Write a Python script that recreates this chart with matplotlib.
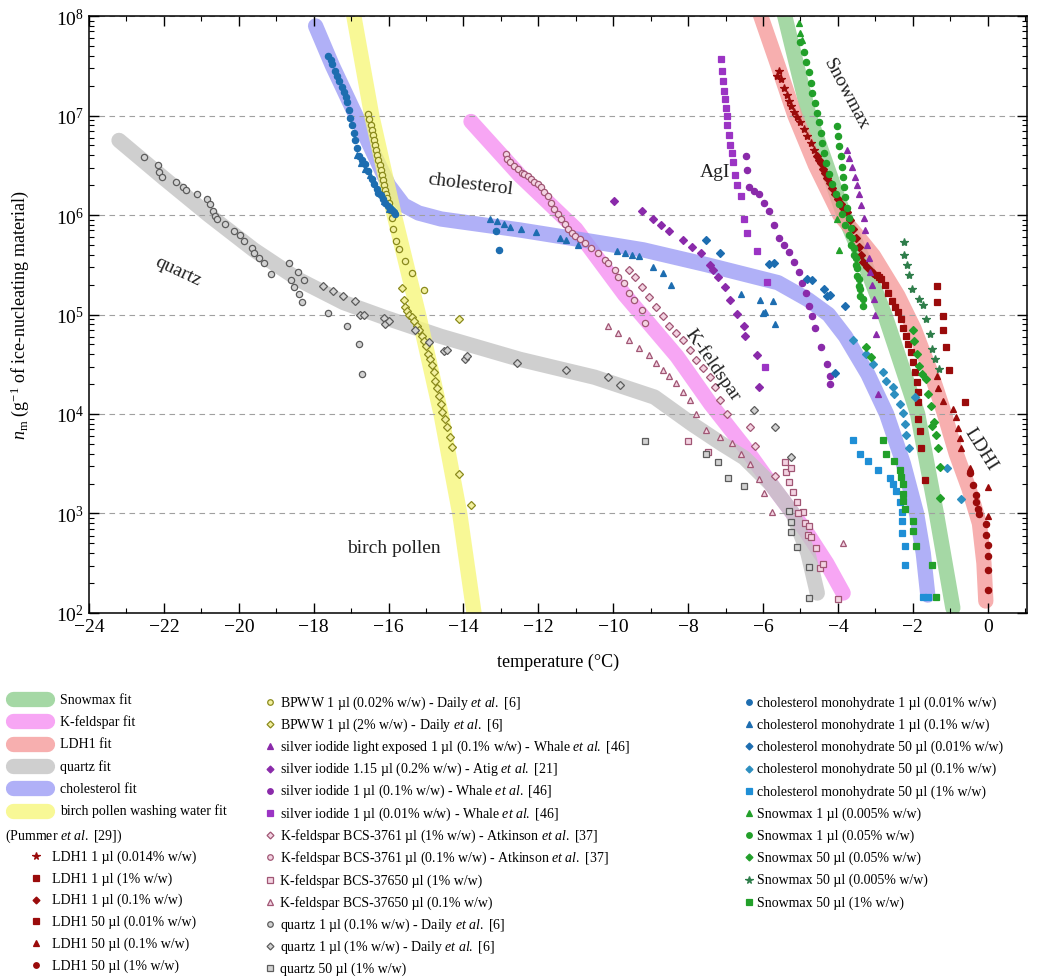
import numpy as np
import matplotlib
matplotlib.use('Agg')
import matplotlib.pyplot as plt
from matplotlib.lines import Line2D
from matplotlib.ticker import MultipleLocator, LogLocator, NullFormatter

plt.rcParams['font.family'] = ['Liberation Serif', 'DejaVu Serif']
plt.rcParams['mathtext.fontset'] = 'custom'
plt.rcParams['mathtext.rm'] = 'Liberation Serif'
plt.rcParams['mathtext.it'] = 'Liberation Serif:italic'
plt.rcParams['mathtext.bf'] = 'Liberation Serif:bold'

# ---- fit curves (temperature, log10 n_m) ----
snow_fit_T = [-5.5, -5.42, -4.77, -3.84, -3.27, -2.75, -1.87, -1.37, -0.93]
snow_fit_lg = [8.12, 8.0, 7.0, 6.0, 5.5, 5.0, 4.0, 3.0, 2.05]
kfeld_fit_T = [-13.8, -12.5, -11.0, -9.7, -8.3, -7.4, -6.5, -5.7, -4.85, -4.3, -3.86]
kfeld_fit_lg = [6.94, 6.4, 5.86, 5.2, 4.58, 4.1, 3.67, 3.25, 2.82, 2.5, 2.2]
ldh_fit_T = [-6.15, -6.06, -5.6, -5.15, -4.6, -3.95, -3.5, -3.05, -2.4, -1.97, -1.52, -1.17, -0.84, -0.5,
             -0.22, -0.1, -0.05]
ldh_fit_lg = [8.1, 8.0, 7.5, 7.0, 6.5, 6.0, 5.8, 5.59, 5.19, 4.86, 4.42, 4.02, 3.6, 3.25,
              2.9, 2.5, 2.12]
quartz_fit_T = [-23.2, -22.0, -20.8, -19.6, -18.4, -17.2, -16.1, -14.6, -12.5, -10.5, -8.9, -7.9, -7.1, -6.5, -5.8, -5.2, -4.8, -4.55]
quartz_fit_lg = [6.75, 6.37, 6.0, 5.65, 5.35, 5.12, 4.97, 4.78, 4.55, 4.37, 4.17, 3.9, 3.7, 3.56, 3.3, 3.0, 2.6, 2.2]
chol_fit_T = [-17.95, -17.5, -17.0, -16.5, -16.0, -15.6, -15.2, -14.6, -12.5, -10.5, -9.2, -7.5, -5.6, -4.8,
              -4.25, -3.8, -3.2, -2.7, -2.25, -1.9, -1.72, -1.6]
chol_fit_lg = [7.9, 7.5, 7.1, 6.7, 6.3, 6.1, 6.02, 5.96, 5.85, 5.73, 5.65, 5.5, 5.32, 5.15,
               5.0, 4.78, 4.4, 4.0, 3.5, 3.0, 2.6, 2.18]
birch_fit_T = [-17.0, -16.45, -15.85, -15.2, -14.6, -14.1, -13.7]
birch_fit_lg = [8.15, 7.0, 6.0, 5.0, 4.0, 3.0, 1.95]

# ---- LDH1 (Pummer et al.) ----
ldh_star_T = [-5.62, -5.57, -5.53, -5.44, -5.35, -5.31, -5.26, -5.17, -5.08, -5.0, -4.91, -4.82, -4.73, -4.64]
ldh_star_lg = [7.4, 7.45, 7.37, 7.28, 7.21, 7.15, 7.1, 7.04, 6.99, 6.93, 6.86, 6.79, 6.72, 6.65]
ldh_dia_T = [-4.55, -4.5, -4.46, -4.4, -4.35, -4.28, -4.22, -4.15, -4.08, -4.0, -3.93, -3.86, -3.8, -3.75,
             -3.68, -3.6, -3.52, -3.45, -3.38, -3.32, -3.22, -3.12, -3.05]
ldh_dia_lg = [6.59, 6.55, 6.52, 6.46, 6.42, 6.37, 6.32, 6.27, 6.21, 6.16, 6.11, 6.07, 6.05, 6.03,
              5.95, 5.86, 5.77, 5.68, 5.6, 5.53, 5.48, 5.44, 5.42]
ldh_sq1_T = [-2.95, -2.9, -2.84, -2.75, -2.65, -2.55, -2.47, -2.4, -2.32, -2.25, -2.18, -2.12, -2.05, -2.0,
             -1.95, -1.9, -1.87, -1.86, -1.85, -1.8, -1.77, -1.68]
ldh_sq1_lg = [5.4, 5.38, 5.36, 5.3, 5.22, 5.14, 5.08, 5.03, 4.95, 4.86, 4.78, 4.7, 4.62, 4.52,
              4.42, 4.32, 4.22, 4.12, 3.95, 3.83, 3.66, 3.34]
ldh_sq50_T = [-1.35, -1.36, -1.2, -1.2, -1.12, -1.02, -0.6]
ldh_sq50_lg = [5.29, 5.13, 4.98, 4.84, 4.67, 4.44, 4.12]
ldh_tri_T = [-1.35, -1.33, -1.2, -0.93, -0.84, -0.8, -0.75, -0.71, -0.48, 0.0, 0.0]
ldh_tri_lg = [4.38, 4.26, 4.13, 4.05, 3.97, 3.86, 3.76, 3.66, 3.46, 3.27, 2.97]
ldh_circ_T = [-0.48, -0.39, -0.31, -0.31, -0.26, -0.22, -0.04, -0.04, 0.0, 0.0, 0.0, 0.0]
ldh_circ_lg = [3.41, 3.29, 3.19, 3.12, 3.05, 2.99, 2.89, 2.78, 2.68, 2.57, 2.43, 2.23]

# ---- Snowmax ----
snow_tri_T = [-5.04, -5.0, -4.95, -4.02, -3.97]
snow_tri_lg = [7.93, 7.83, 7.76, 5.96, 5.65]
snow_circ_T = [-5.0, -4.91, -4.86, -4.77, -4.73, -4.68, -4.61, -4.55, -4.51, -4.46, -4.42, -4.37, -4.33, -4.24,
               -4.15, -4.06, -3.97, -3.88, -3.8, -3.71, -3.66, -3.57, -3.53, -3.48, -3.44, -3.4, -3.33,
               -4.02, -4.0, -3.97, -3.93, -3.88, -3.87, -3.84, -3.8, -3.75, -3.71, -3.66, -3.62, -3.57,
               -3.53, -3.48, -3.44, -3.4, -3.33]
snow_circ_lg = [7.74, 7.64, 7.54, 7.44, 7.33, 7.23, 7.13, 7.03, 6.93, 6.82, 6.72, 6.62, 6.52, 6.41,
                6.31, 6.21, 6.11, 6.01, 5.9, 5.8, 5.7, 5.6, 5.5, 5.39, 5.29, 5.19, 5.09,
                6.89, 6.79, 6.69, 6.59, 6.48, 6.38, 6.28, 6.18, 6.07, 5.97, 5.87, 5.77, 5.67,
                5.57, 5.47, 5.36, 5.26, 5.16]
snow_dia_T = [-3.24, -3.11, -2.0, -1.98, -1.9, -1.83, -1.75, -1.65, -1.6, -1.52, -1.43, -1.5, -1.37, -1.33, -1.28, -1.28]
snow_dia_lg = [4.67, 4.57, 4.84, 4.73, 4.6, 4.48, 4.4, 4.35, 4.2, 4.08, 3.92, 3.88, 3.79, 3.66, 3.47, 3.16]
snow_star_T = [-2.24, -2.24, -2.15, -2.1, -2.02, -1.84, -1.73, -1.64, -1.55, -1.5, -1.4, -1.3]
snow_star_lg = [5.73, 5.6, 5.5, 5.4, 5.26, 5.16, 5.1, 4.95, 4.8, 4.65, 4.55, 4.45]
snow_sq_T = [-2.8, -2.71, -2.49, -2.35, -2.31, -2.26, -2.26, -2.26, -2.22, -2.0, -2.0, -1.91, -1.5, -1.37]
snow_sq_lg = [3.74, 3.6, 3.53, 3.44, 3.37, 3.3, 3.2, 3.13, 3.05, 2.92, 2.82, 2.67, 2.48, 2.16]

# ---- cholesterol monohydrate ----
chol_c_T = [-17.61, -17.55, -17.5, -17.43, -17.38, -17.32, -17.25, -17.2, -17.15, -17.12, -17.06, -17.02,
            -16.98, -16.93, -16.89, -16.84, -16.8, -16.72, -16.63, -16.55, -16.45, -16.38, -16.3, -16.27,
            -16.2, -16.15, -16.09, -16.02, -15.96, -15.91, -15.86, -15.82, -13.14, -13.05]
chol_c_lg = [7.6, 7.56, 7.52, 7.45, 7.4, 7.35, 7.29, 7.24, 7.19, 7.14, 7.06, 6.98,
             6.9, 6.82, 6.75, 6.67, 6.59, 6.55, 6.51, 6.44, 6.36, 6.31, 6.26, 6.22,
             6.2, 6.16, 6.12, 6.09, 6.07, 6.05, 6.03, 6.01, 5.84, 5.65]
chol_t_T = [-16.85, -16.75, -16.62, -16.5, -16.4, -16.25, -16.12, -15.98, -13.28, -13.1, -12.92, -12.75,
            -12.47, -12.06, -11.43, -11.25, -10.94, -9.9, -9.68, -9.5, -9.32, -8.95, -8.68, -8.46,
            -6.6, -6.07, -6.0, -5.94, -5.73, -5.67]
chol_t_lg = [6.6, 6.52, 6.46, 6.4, 6.33, 6.24, 6.14, 6.06, 5.96, 5.94, 5.91, 5.88,
             5.86, 5.83, 5.77, 5.75, 5.7, 5.64, 5.62, 5.6, 5.59, 5.48, 5.42, 5.3,
             5.21, 5.15, 5.02, 5.03, 5.14, 4.9]
chol_d1_T = [-7.51, -7.15, -5.84, -5.71, -4.82, -4.68, -4.37, -4.28, -4.2, -3.8, -4.09]
chol_d1_lg = [5.75, 5.62, 5.51, 5.52, 5.36, 5.35, 5.26, 5.19, 5.2, 5.09, 4.41]
chol_d2_T = [-3.6, -3.24, -3.06, -2.8, -2.71, -2.53, -2.49, -2.35, -2.26, -2.22, -2.17, -2.09, -1.95, -1.1, -0.71]
chol_d2_lg = [4.74, 4.6, 4.5, 4.42, 4.33, 4.27, 4.2, 4.1, 4.01, 3.9, 3.79, 3.66, 4.17, 3.46, 3.15]
chol_sq_T = [-3.6, -3.42, -3.2, -2.93, -2.62, -2.53, -2.44, -2.35, -2.3, -2.3, -2.3, -2.2, -2.2, -1.73, -1.6]
chol_sq_lg = [3.74, 3.6, 3.53, 3.44, 3.36, 3.3, 3.23, 3.12, 3.02, 2.92, 2.8, 2.67, 2.48, 2.16, 2.16]

# ---- silver iodide ----
agi_tri_T = [-3.75, -3.7, -3.62, -3.55, -3.5, -3.44, -3.38, -3.31, -3.27, -3.22, -3.18, -3.13, -3.08,
             -3.04, -3.0, -2.97, -2.93]
agi_tri_lg = [6.65, 6.57, 6.48, 6.38, 6.3, 6.21, 6.1, 5.97, 5.85, 5.7, 5.57, 5.43, 5.3,
              5.16, 5.0, 4.8, 4.2]
agi_dia_T = [-9.99, -9.23, -8.95, -8.72, -8.5, -8.14, -7.9, -7.65, -7.42, -7.33, -7.2, -7.02, -6.88,
             -6.7, -6.52, -6.48, -6.16, -6.12]
agi_dia_lg = [6.14, 6.04, 5.96, 5.9, 5.84, 5.75, 5.68, 5.62, 5.5, 5.45, 5.38, 5.28, 5.15,
              5.01, 4.88, 4.78, 4.59, 4.27]
agi_circ_T = [-6.46, -6.42, -6.37, -6.25, -6.11, -5.98, -5.84, -5.7, -5.57, -5.45, -5.31, -5.18, -5.04,
              -4.95, -4.86, -4.77, -4.7, -4.62, -4.44, -4.3, -4.22, -4.22]
agi_circ_lg = [6.59, 6.45, 6.28, 6.24, 6.21, 6.12, 6.04, 5.9, 5.77, 5.7, 5.63, 5.53, 5.43,
               5.32, 5.22, 5.09, 4.98, 4.86, 4.67, 4.5, 4.38, 4.3]
agi_sq_T = [-7.13, -7.1, -7.07, -7.05, -7.02, -7.0, -6.97, -6.95, -6.9, -6.87, -6.84, -6.8, -6.75, -6.7,
            -6.6, -6.52, -6.43, -6.16, -5.89, -5.94]
agi_sq_lg = [7.57, 7.45, 7.35, 7.25, 7.17, 7.08, 7.0, 6.9, 6.8, 6.7, 6.62, 6.53, 6.4, 6.3,
             6.19, 5.96, 5.82, 5.64, 5.33, 4.47]

# ---- K-feldspar ----
kf_circ_T = [-12.87, -12.83, -12.75, -12.65, -12.55, -12.45, -12.38, -12.29, -12.2, -12.11, -12.02, -11.93,
             -11.84, -11.75, -11.66, -11.57, -11.48, -11.39, -11.3, -11.2, -11.1, -11.03, -10.9, -10.76,
             -10.6, -10.4, -10.22, -10.13, -9.95, -9.86, -9.72, -9.59, -9.45, -9.23, -9.14]
kf_circ_lg = [6.61, 6.56, 6.53, 6.49, 6.46, 6.42, 6.41, 6.39, 6.36, 6.33, 6.31, 6.28,
              6.23, 6.19, 6.12, 6.06, 6.01, 5.96, 5.91, 5.86, 5.82, 5.79, 5.76, 5.72,
              5.67, 5.62, 5.55, 5.52, 5.45, 5.38, 5.32, 5.22, 5.15, 5.05, 4.91]
kf_dia_T = [-9.59, -9.41, -9.23, -9.05, -8.86, -8.68, -8.5, -8.32, -8.14, -7.96, -7.78, -7.6, -7.42,
            -7.29, -7.15, -6.97, -6.34, -6.21, -5.67]
kf_dia_lg = [5.45, 5.38, 5.28, 5.18, 5.08, 4.98, 4.88, 4.81, 4.74, 4.64, 4.54, 4.46, 4.37,
             4.27, 4.14, 4.0, 3.87, 3.68, 3.38]
kf_tri_T = [-10.13, -9.86, -9.59, -9.32, -9.05, -8.86, -8.68, -8.5, -8.32, -8.14, -7.96, -7.78, -7.51,
            -7.15, -6.84, -6.6, -6.34, -6.1, -5.98, -5.76, -3.86]
kf_tri_lg = [4.88, 4.81, 4.74, 4.66, 4.59, 4.51, 4.44, 4.38, 4.31, 4.22, 4.14, 4.0, 3.84,
             3.77, 3.71, 3.6, 3.5, 3.35, 3.21, 3.01, 2.7]
kf_sq_T = [-8.0, -7.47, -5.42, -5.38, -5.3, -5.2, -5.08, -4.93, -4.88, -4.8, -4.58, -4.49, -4.0,
           -5.26, -5.07, -4.77, -4.72, -4.41]
kf_sq_lg = [3.73, 3.62, 3.52, 3.42, 3.32, 3.22, 3.12, 3.02, 2.9, 2.78, 2.65, 2.45, 2.14,
            3.46, 3.0, 2.87, 2.76, 2.49]

# ---- quartz ----
qz_circ_T = [-22.53, -22.17, -22.13, -22.04, -21.68, -21.5, -21.4, -21.13, -20.86, -20.77, -20.68, -20.63,
             -20.59, -20.36, -20.14, -19.96, -19.87, -19.64, -19.6, -19.46, -19.33, -19.15, -18.65, -18.43,
             -18.25, -18.61, -18.52, -18.38, -18.3, -17.62, -17.12, -16.8, -16.71]
qz_circ_lg = [6.58, 6.5, 6.43, 6.38, 6.33, 6.28, 6.25, 6.21, 6.16, 6.11, 6.04, 5.99,
              5.96, 5.91, 5.84, 5.8, 5.74, 5.67, 5.62, 5.57, 5.52, 5.41, 5.52, 5.43,
              5.35, 5.35, 5.28, 5.21, 5.13, 5.02, 4.88, 4.7, 4.4]
qz_dia_T = [-17.75, -17.48, -17.21, -16.89, -16.76, -16.66, -16.13, -16.09, -16.0, -15.29, -14.93, -14.53,
            -14.45, -13.95, -13.91, -12.56, -11.25, -10.13, -9.81, -6.25, -5.67, -5.26]
qz_dia_lg = [5.29, 5.24, 5.19, 5.14, 5.0, 4.99, 4.96, 4.9, 4.93, 4.84, 4.72, 4.63,
             4.64, 4.55, 4.58, 4.51, 4.44, 4.37, 4.29, 4.04, 3.87, 3.57]
qz_sq_T = [-9.14, -7.51, -7.2, -6.93, -6.52, -5.3, -5.26, -5.26, -5.08, -4.77, -4.77]
qz_sq_lg = [3.73, 3.6, 3.52, 3.36, 3.28, 3.03, 2.91, 2.81, 2.66, 2.46, 2.15]

# ---- birch pollen washing water ----
bp_circ_T = [-16.54, -16.51, -16.48, -16.45, -16.42, -16.39, -16.36, -16.33, -16.3, -16.27, -16.24, -16.21,
             -16.18, -16.15, -16.12, -16.09, -16.06, -16.03, -16.0, -15.95, -15.91, -15.87, -15.8, -15.73,
             -15.55, -15.38, -15.06]
bp_circ_lg = [7.02, 6.96, 6.9, 6.85, 6.8, 6.75, 6.7, 6.65, 6.6, 6.55, 6.5, 6.45,
              6.4, 6.35, 6.3, 6.25, 6.21, 6.17, 6.12, 6.05, 5.97, 5.86, 5.74, 5.66,
              5.54, 5.42, 5.25]
bp_dia_T = [-15.64, -15.6, -15.55, -15.51, -15.45, -15.38, -15.33, -15.25, -15.2, -15.12, -15.05, -15.0,
            -14.95, -14.9, -14.84, -14.8, -14.75, -14.7, -14.66, -14.6, -14.57, -14.5, -14.44, -14.37,
            -14.3, -14.13, -13.81, -14.13]
bp_dia_lg = [5.27, 5.15, 5.08, 5.04, 5.0, 4.97, 4.93, 4.88, 4.84, 4.78, 4.73, 4.68,
             4.6, 4.55, 4.49, 4.42, 4.33, 4.26, 4.18, 4.1, 4.02, 3.95, 3.87, 3.77,
             3.67, 3.4, 3.09, 4.95]

EA = r'$\mathit{et\ al.}$'

# colours
DRED = '#9a0b0b'
GRN = '#22a02a'
GRN_D = '#2e7d4a'
BLU = '#1d6db0'
BLU2 = '#2d8fc0'
BLU3 = '#1f8fd6'
PUR = '#8a2aaa'
PUR2 = '#9b34c4'
KF = ('#f3d4e2', '#a05674')
QZ = ('#d2d2d2', '#5c5c5c')
BP = ('#f3f0a0', '#8a8a1c')

fits = [
    (snow_fit_T, snow_fit_lg, '#8fcf8f', 'Snowmax fit'),
    (kfeld_fit_T, kfeld_fit_lg, '#f590f2', 'K-feldspar fit'),
    (ldh_fit_T, ldh_fit_lg, '#f59b9b', 'LDH1 fit'),
    (quartz_fit_T, quartz_fit_lg, '#c4c4c4', 'quartz fit'),
    (chol_fit_T, chol_fit_lg, '#9d9df5', 'cholesterol fit'),
    (birch_fit_T, birch_fit_lg, '#f7f77c', 'birch pollen washing water fit'),
]

# (T, lg, marker, face, edge, size, label, legend column)
series = [
    (ldh_star_T, ldh_star_lg, '*', DRED, DRED, 6, 'LDH1 1 µl (0.014% w/w)', 1),
    (ldh_sq1_T, ldh_sq1_lg, 's', DRED, DRED, 4.5, 'LDH1 1 µl (1% w/w)', 1),
    (ldh_dia_T, ldh_dia_lg, 'D', DRED, DRED, 4, 'LDH1 1 µl (0.1% w/w)', 1),
    (ldh_sq50_T, ldh_sq50_lg, 's', DRED, DRED, 4.5, 'LDH1 50 µl (0.01% w/w)', 1),
    (ldh_tri_T, ldh_tri_lg, '^', DRED, DRED, 5, 'LDH1 50 µl (0.1% w/w)', 1),
    (ldh_circ_T, ldh_circ_lg, 'o', DRED, DRED, 4.5, 'LDH1 50 µl (1% w/w)', 1),
    (bp_circ_T, bp_circ_lg, 'o', BP[0], BP[1], 4.5, 'BPWW 1 µl (0.02% w/w) - Daily ' + EA + ' [6]', 2),
    (bp_dia_T, bp_dia_lg, 'D', BP[0], BP[1], 4, 'BPWW 1 µl (2% w/w) - Daily ' + EA + ' [6]', 2),
    (agi_tri_T, agi_tri_lg, '^', PUR, PUR, 5, 'silver iodide light exposed 1 µl (0.1% w/w) - Whale ' + EA + ' [46]', 2),
    (agi_dia_T, agi_dia_lg, 'D', PUR, PUR, 4, 'silver iodide 1.15 µl (0.2% w/w) - Atig ' + EA + ' [21]', 2),
    (agi_circ_T, agi_circ_lg, 'o', PUR, PUR, 4.5, 'silver iodide 1 µl (0.1% w/w) - Whale ' + EA + ' [46]', 2),
    (agi_sq_T, agi_sq_lg, 's', PUR2, PUR2, 4.5, 'silver iodide 1 µl (0.01% w/w) - Whale ' + EA + ' [46]', 2),
    (kf_dia_T, kf_dia_lg, 'D', KF[0], KF[1], 4, 'K-feldspar BCS-3761 µl (1% w/w) - Atkinson ' + EA + ' [37]', 2),
    (kf_circ_T, kf_circ_lg, 'o', KF[0], KF[1], 4.5, 'K-feldspar BCS-3761 µl (0.1% w/w) - Atkinson ' + EA + ' [37]', 2),
    (kf_sq_T, kf_sq_lg, 's', KF[0], KF[1], 4.5, 'K-feldspar BCS-37650 µl (1% w/w)', 2),
    (kf_tri_T, kf_tri_lg, '^', KF[0], KF[1], 5, 'K-feldspar BCS-37650 µl (0.1% w/w)', 2),
    (qz_circ_T, qz_circ_lg, 'o', QZ[0], QZ[1], 4.5, 'quartz 1 µl (0.1% w/w) - Daily ' + EA + ' [6]', 2),
    (qz_dia_T, qz_dia_lg, 'D', QZ[0], QZ[1], 4, 'quartz 1 µl (1% w/w) - Daily ' + EA + ' [6]', 2),
    (qz_sq_T, qz_sq_lg, 's', QZ[0], QZ[1], 4.5, 'quartz 50 µl (1% w/w)', 2),
    (chol_c_T, chol_c_lg, 'o', BLU, BLU, 4.5, 'cholesterol monohydrate 1 µl (0.01% w/w)', 3),
    (chol_t_T, chol_t_lg, '^', BLU, BLU, 5, 'cholesterol monohydrate 1 µl (0.1% w/w)', 3),
    (chol_d1_T, chol_d1_lg, 'D', BLU, BLU, 4, 'cholesterol monohydrate 50 µl (0.01% w/w)', 3),
    (chol_d2_T, chol_d2_lg, 'D', BLU2, BLU2, 4, 'cholesterol monohydrate 50 µl (0.1% w/w)', 3),
    (chol_sq_T, chol_sq_lg, 's', BLU3, BLU3, 4.5, 'cholesterol monohydrate 50 µl (1% w/w)', 3),
    (snow_tri_T, snow_tri_lg, '^', GRN, GRN, 5, 'Snowmax 1 µl (0.005% w/w)', 3),
    (snow_circ_T, snow_circ_lg, 'o', GRN, GRN, 4.5, 'Snowmax 1 µl (0.05% w/w)', 3),
    (snow_dia_T, snow_dia_lg, 'D', GRN, GRN, 4, 'Snowmax 50 µl (0.05% w/w)', 3),
    (snow_star_T, snow_star_lg, '*', GRN_D, GRN_D, 6, 'Snowmax 50 µl (0.005% w/w)', 3),
    (snow_sq_T, snow_sq_lg, 's', GRN, GRN, 4.5, 'Snowmax 50 µl (1% w/w)', 3),
]

fig = plt.figure(figsize=(10.5, 9.78), dpi=100)
ax = fig.add_axes([0.0848, 0.3722, 0.8933, 0.6104])

for T, lg, col, lab in fits:
    ax.plot(T, 10 ** np.array(lg), color=col, lw=11, alpha=0.8,
            solid_capstyle='round', solid_joinstyle='round', zorder=1)

for T, lg, mk, fc, ec, ms, lab, c in series:
    ax.plot(T, 10 ** np.array(lg), ls='none', marker=mk, ms=ms, mfc=fc, mec=ec,
            mew=0.9, zorder=3)

ax.set_yscale('log')
ax.set_xlim(-24, 1.05)
ax.set_ylim(1e2, 1e8)
ax.xaxis.set_major_locator(MultipleLocator(2))
ax.xaxis.set_minor_locator(MultipleLocator(1))
ax.yaxis.set_major_locator(LogLocator(base=10, numticks=10))
ax.yaxis.set_minor_locator(LogLocator(base=10, subs=np.arange(2, 10) * 1.0, numticks=20))
ax.yaxis.set_minor_formatter(NullFormatter())
ax.tick_params(which='both', direction='in', top=True, right=True, labelsize=14)
ax.tick_params(which='major', length=7, width=1)
ax.tick_params(which='minor', length=3.5, width=0.8)
ax.grid(True, axis='y', which='major', ls=(0, (5, 4)), color='#a0a0a0', lw=0.8, zorder=0)
for s in ax.spines.values():
    s.set_linewidth(1.1)

ax.set_xlabel('temperature (°C)', fontsize=13)
ax.set_ylabel(r'$n_{\mathrm{m}}$ (g$^{-1}$ of ice-nucleating material)', fontsize=13)
ax.xaxis.set_label_coords(0.5, -0.066)
ax.yaxis.set_label_coords(-0.062, 0.5)

# labels inside the plot
lab_kw = dict(fontsize=14, color='#222222', ha='center', va='center', zorder=4)
ax.text(-21.62, 10 ** 5.44, 'quartz', rotation=-25, **lab_kw)
ax.text(-13.82, 10 ** 6.31, 'cholesterol', rotation=-7, **lab_kw)
ax.text(-7.27, 10 ** 6.44, 'AgI', **lab_kw)
ax.text(-7.35, 10 ** 4.5, 'K-feldspar', rotation=-55, **lab_kw)
ax.text(-3.79, 10 ** 7.22, 'Snowmax', rotation=-62, **lab_kw)
ax.text(-0.19, 10 ** 3.65, 'LDHI', rotation=-58, **lab_kw)
ax.text(-15.87, 10 ** 2.66, 'birch pollen', **lab_kw)

# legend drawn below the plot
W, H = 1050.0, 978.0


def fx(px):
    return px / W


def fy(py):
    return 1 - py / H


for i, (T, lg, col, lab) in enumerate(fits):
    y = 700 + 22.3 * i
    fig.add_artist(Line2D([fx(13), fx(47)], [fy(y), fy(y)], lw=11, color=col, alpha=0.8,
                          solid_capstyle='round'))
    fig.text(fx(60), fy(y), lab, fontsize=10, va='center', ha='left')
fig.text(fx(5), fy(836), '(Pummer ' + EA + ' [29])', fontsize=10, va='center', ha='left')

rows = {1: 0, 2: 0, 3: 0}
col_pos = {1: (36, 52, 857, 21.8), 2: (270, 280, 703, 22.2), 3: (749, 757, 703, 22.2)}
for T, lg, mk, fc, ec, ms, lab, c in series:
    mx, tx, y0, dy = col_pos[c]
    y = y0 + dy * rows[c]
    rows[c] += 1
    fig.add_artist(Line2D([fx(mx)], [fy(y)], ls='none', marker=mk, ms=ms - 0.5, mfc=fc, mec=ec, mew=0.9))
    fig.text(fx(tx), fy(y), lab, fontsize=10, va='center', ha='left')

fig.savefig('out.png', dpi=100)
